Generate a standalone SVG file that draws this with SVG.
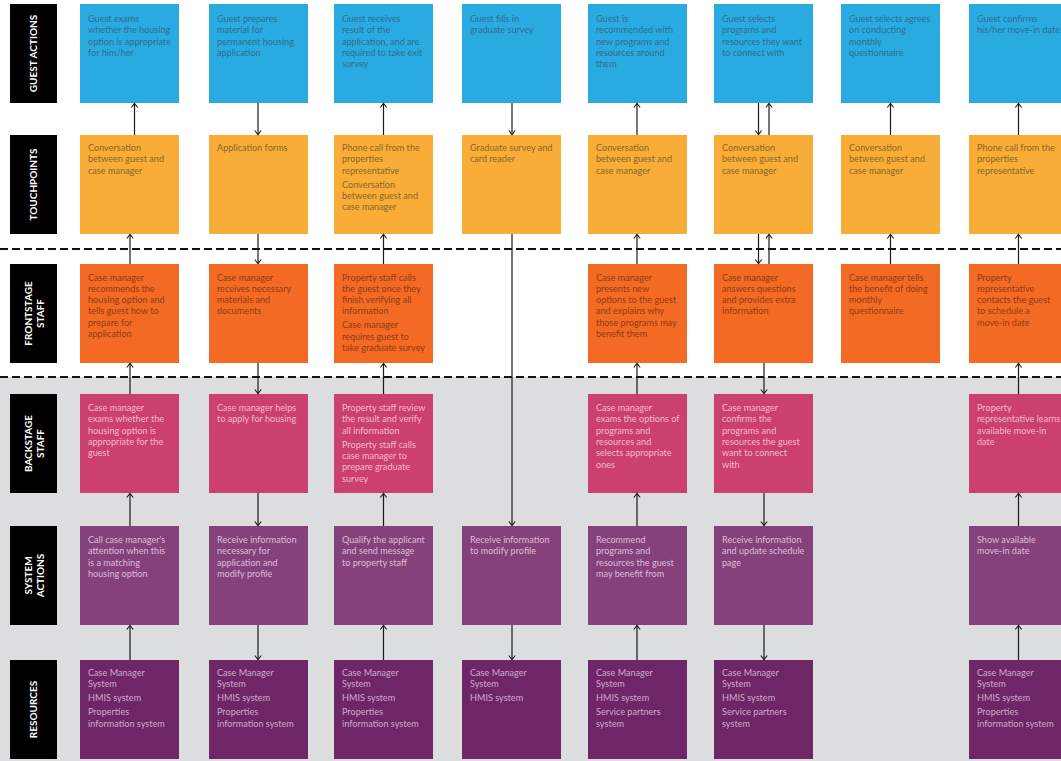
<svg xmlns="http://www.w3.org/2000/svg" width="1061" height="761" viewBox="0 0 1061 761">
<defs>
<style>
text{font-family:Lato,"Noto Sans","Liberation Sans",sans-serif;font-size:9.1px}
.lab rect{fill:#000}
.lab text{fill:#fff;font-weight:bold;font-size:10px;text-anchor:middle}
.ga rect{fill:#29abe2}.ga text{fill:#2f6d90}
.tp rect{fill:#f7ad38}.tp text{fill:#8f6526}
.fs rect{fill:#f26a24}.fs text{fill:#953a12}
.bs rect{fill:#cb406f}.bs text{fill:#f3b8cc}
.sa rect{fill:#84417b}.sa text{fill:#dcbcd8}
.rs rect{fill:#6e2667}.rs text{fill:#cfa9ca}
.conn line{stroke:#1a1a1a;stroke-width:1.2;fill:none}
.dash{stroke:#111;stroke-width:2;stroke-dasharray:8 4}
</style>
<marker id="ah" markerUnits="userSpaceOnUse" markerWidth="10" markerHeight="10" refX="0" refY="0" viewBox="-6 -5 8 10" orient="auto">
<path d="M-4,-3.2 L0,0 L-4,3.2" fill="none" stroke="#1a1a1a" stroke-width="1.1"/>
</marker>
</defs>
<rect x="0" y="0" width="1061" height="761" fill="#fff"/>
<rect x="0" y="377" width="1061" height="384" fill="#dcdddf"/>
<line class="dash" x1="0" y1="249" x2="1061" y2="249"/>
<line class="dash" x1="0" y1="377" x2="1061" y2="377"/>

<g id="label-guest-actions" class="lab"><rect x="10" y="4" width="47" height="99"/><text transform="translate(36.7,53.5) rotate(-90)">GUEST ACTIONS</text></g>
<g id="label-touchpoints" class="lab"><rect x="10" y="135" width="47" height="99"/><text transform="translate(36.7,184.5) rotate(-90)">TOUCHPOINTS</text></g>
<g id="label-frontstage" class="lab"><rect x="10" y="264" width="47" height="99"/><text transform="translate(32.3,313.5) rotate(-90)">FRONTSTAGE</text><text transform="translate(44.3,313.5) rotate(-90)">STAFF</text></g>
<g id="label-backstage" class="lab"><rect x="10" y="394" width="47" height="99"/><text transform="translate(32.3,443.5) rotate(-90)">BACKSTAGE</text><text transform="translate(44.3,443.5) rotate(-90)">STAFF</text></g>
<g id="label-system" class="lab"><rect x="10" y="526" width="47" height="99"/><text transform="translate(32.3,575.5) rotate(-90)">SYSTEM</text><text transform="translate(44.3,575.5) rotate(-90)">ACTIONS</text></g>
<g id="label-resources" class="lab"><rect x="10" y="660" width="47" height="99"/><text transform="translate(36.7,709.5) rotate(-90)">RESOURCES</text></g>

<!-- Column 1 -->
<g id="c1-ga" class="ga"><rect x="80" y="4" width="99" height="99"/><text x="88" y="22"><tspan x="88">Guest exams</tspan><tspan x="88" dy="11.3">whether the housing</tspan><tspan x="88" dy="11.3">option is appropriate</tspan><tspan x="88" dy="11.3">for him/her</tspan></text></g>
<g id="c1-tp" class="tp"><rect x="80" y="135" width="99" height="99"/><text x="88" y="151"><tspan x="88">Conversation</tspan><tspan x="88" dy="11.3">between guest and</tspan><tspan x="88" dy="11.3">case manager</tspan></text></g>
<g id="c1-fs" class="fs"><rect x="80" y="264" width="99" height="99"/><text x="88" y="280.5"><tspan x="88">Case manager</tspan><tspan x="88" dy="11.3">recommends the</tspan><tspan x="88" dy="11.3">housing option and</tspan><tspan x="88" dy="11.3">tells guest how to</tspan><tspan x="88" dy="11.3">prepare for</tspan><tspan x="88" dy="11.3">application</tspan></text></g>
<g id="c1-bs" class="bs"><rect x="80" y="394" width="99" height="99"/><text x="88" y="411"><tspan x="88">Case manager</tspan><tspan x="88" dy="11.3">exams whether the</tspan><tspan x="88" dy="11.3">housing option is</tspan><tspan x="88" dy="11.3">appropriate for the</tspan><tspan x="88" dy="11.3">guest</tspan></text></g>
<g id="c1-sa" class="sa"><rect x="80" y="526" width="99" height="99"/><text x="88" y="543"><tspan x="88">Call case manager's</tspan><tspan x="88" dy="11.3">attention when this</tspan><tspan x="88" dy="11.3">is a matching</tspan><tspan x="88" dy="11.3">housing option</tspan></text></g>
<g id="c1-rs" class="rs"><rect x="80" y="660" width="99" height="99"/><text x="88" y="676"><tspan x="88">Case Manager</tspan><tspan x="88" dy="11.3">System</tspan><tspan x="88" dy="14">HMIS system</tspan><tspan x="88" dy="14">Properties</tspan><tspan x="88" dy="11.3">information system</tspan></text></g>

<!-- Column 2 -->
<g id="c2-ga" class="ga"><rect x="209" y="4" width="99" height="99"/><text x="217" y="22"><tspan x="217">Guest prepares</tspan><tspan x="217" dy="11.3">material for</tspan><tspan x="217" dy="11.3">permanent housing</tspan><tspan x="217" dy="11.3">application</tspan></text></g>
<g id="c2-tp" class="tp"><rect x="209" y="135" width="99" height="99"/><text x="217" y="151">Application forms</text></g>
<g id="c2-fs" class="fs"><rect x="209" y="264" width="99" height="99"/><text x="217" y="280.5"><tspan x="217">Case manager</tspan><tspan x="217" dy="11.3">receives necessary</tspan><tspan x="217" dy="11.3">materials and</tspan><tspan x="217" dy="11.3">documents</tspan></text></g>
<g id="c2-bs" class="bs"><rect x="209" y="394" width="99" height="99"/><text x="217" y="411"><tspan x="217">Case manager helps</tspan><tspan x="217" dy="11.3">to apply for housing</tspan></text></g>
<g id="c2-sa" class="sa"><rect x="209" y="526" width="99" height="99"/><text x="217" y="543"><tspan x="217">Receive information</tspan><tspan x="217" dy="11.3">necessary for</tspan><tspan x="217" dy="11.3">application and</tspan><tspan x="217" dy="11.3">modify profile</tspan></text></g>
<g id="c2-rs" class="rs"><rect x="209" y="660" width="99" height="99"/><text x="217" y="676"><tspan x="217">Case Manager</tspan><tspan x="217" dy="11.3">System</tspan><tspan x="217" dy="14">HMIS system</tspan><tspan x="217" dy="14">Properties</tspan><tspan x="217" dy="11.3">information system</tspan></text></g>

<!-- Column 3 -->
<g id="c3-ga" class="ga"><rect x="334" y="4" width="99" height="99"/><text x="342" y="22"><tspan x="342">Guest receives</tspan><tspan x="342" dy="11.3">result of the</tspan><tspan x="342" dy="11.3">application, and are</tspan><tspan x="342" dy="11.3">required to take exit</tspan><tspan x="342" dy="11.3">survey</tspan></text></g>
<g id="c3-tp" class="tp"><rect x="334" y="135" width="99" height="99"/><text x="342" y="151"><tspan x="342">Phone call from the</tspan><tspan x="342" dy="11.3">properties</tspan><tspan x="342" dy="11.3">representative</tspan><tspan x="342" dy="14">Conversation</tspan><tspan x="342" dy="11.3">between guest and</tspan><tspan x="342" dy="11.3">case manager</tspan></text></g>
<g id="c3-fs" class="fs"><rect x="334" y="264" width="99" height="99"/><text x="342" y="280.5"><tspan x="342">Property staff calls</tspan><tspan x="342" dy="11.3">the guest once they</tspan><tspan x="342" dy="11.3">finish verifying all</tspan><tspan x="342" dy="11.3">information</tspan><tspan x="342" dy="14">Case manager</tspan><tspan x="342" dy="11.3">requires guest to</tspan><tspan x="342" dy="11.3">take graduate survey</tspan></text></g>
<g id="c3-bs" class="bs"><rect x="334" y="394" width="99" height="99"/><text x="342" y="411"><tspan x="342">Property staff review</tspan><tspan x="342" dy="11.3">the result and verify</tspan><tspan x="342" dy="11.3">all information</tspan><tspan x="342" dy="14">Property staff calls</tspan><tspan x="342" dy="11.3">case manager to</tspan><tspan x="342" dy="11.3">prepare graduate</tspan><tspan x="342" dy="11.3">survey</tspan></text></g>
<g id="c3-sa" class="sa"><rect x="334" y="526" width="99" height="99"/><text x="342" y="543"><tspan x="342">Qualify the applicant</tspan><tspan x="342" dy="11.3">and send message</tspan><tspan x="342" dy="11.3">to property staff</tspan></text></g>
<g id="c3-rs" class="rs"><rect x="334" y="660" width="99" height="99"/><text x="342" y="676"><tspan x="342">Case Manager</tspan><tspan x="342" dy="11.3">System</tspan><tspan x="342" dy="14">HMIS system</tspan><tspan x="342" dy="14">Properties</tspan><tspan x="342" dy="11.3">information system</tspan></text></g>

<!-- Column 4 -->
<g id="c4-ga" class="ga"><rect x="462" y="4" width="99" height="99"/><text x="470" y="22"><tspan x="470">Guest fills in</tspan><tspan x="470" dy="11.3">graduate survey</tspan></text></g>
<g id="c4-tp" class="tp"><rect x="462" y="135" width="99" height="99"/><text x="470" y="151"><tspan x="470">Graduate survey and</tspan><tspan x="470" dy="11.3">card reader</tspan></text></g>
<g id="c4-sa" class="sa"><rect x="462" y="526" width="99" height="99"/><text x="470" y="543"><tspan x="470">Receive information</tspan><tspan x="470" dy="11.3">to modify profile</tspan></text></g>
<g id="c4-rs" class="rs"><rect x="462" y="660" width="99" height="99"/><text x="470" y="676"><tspan x="470">Case Manager</tspan><tspan x="470" dy="11.3">System</tspan><tspan x="470" dy="14">HMIS system</tspan></text></g>

<!-- Column 5 -->
<g id="c5-ga" class="ga"><rect x="588" y="4" width="99" height="99"/><text x="596" y="22"><tspan x="596">Guest is</tspan><tspan x="596" dy="11.3">recommended with</tspan><tspan x="596" dy="11.3">new programs and</tspan><tspan x="596" dy="11.3">resources around</tspan><tspan x="596" dy="11.3">them</tspan></text></g>
<g id="c5-tp" class="tp"><rect x="588" y="135" width="99" height="99"/><text x="596" y="151"><tspan x="596">Conversation</tspan><tspan x="596" dy="11.3">between guest and</tspan><tspan x="596" dy="11.3">case manager</tspan></text></g>
<g id="c5-fs" class="fs"><rect x="588" y="264" width="99" height="99"/><text x="596" y="280.5"><tspan x="596">Case manager</tspan><tspan x="596" dy="11.3">presents new</tspan><tspan x="596" dy="11.3">options to the guest</tspan><tspan x="596" dy="11.3">and explains why</tspan><tspan x="596" dy="11.3">those programs may</tspan><tspan x="596" dy="11.3">benefit them</tspan></text></g>
<g id="c5-bs" class="bs"><rect x="588" y="394" width="99" height="99"/><text x="596" y="411"><tspan x="596">Case manager</tspan><tspan x="596" dy="11.3">exams the options of</tspan><tspan x="596" dy="11.3">programs and</tspan><tspan x="596" dy="11.3">resources and</tspan><tspan x="596" dy="11.3">selects appropriate</tspan><tspan x="596" dy="11.3">ones</tspan></text></g>
<g id="c5-sa" class="sa"><rect x="588" y="526" width="99" height="99"/><text x="596" y="543"><tspan x="596">Recommend</tspan><tspan x="596" dy="11.3">programs and</tspan><tspan x="596" dy="11.3">resources the guest</tspan><tspan x="596" dy="11.3">may benefit from</tspan></text></g>
<g id="c5-rs" class="rs"><rect x="588" y="660" width="99" height="99"/><text x="596" y="676"><tspan x="596">Case Manager</tspan><tspan x="596" dy="11.3">System</tspan><tspan x="596" dy="14">HMIS system</tspan><tspan x="596" dy="14">Service partners</tspan><tspan x="596" dy="11.3">system</tspan></text></g>

<!-- Column 6 -->
<g id="c6-ga" class="ga"><rect x="714" y="4" width="99" height="99"/><text x="722" y="22"><tspan x="722">Guest selects</tspan><tspan x="722" dy="11.3">programs and</tspan><tspan x="722" dy="11.3">resources they want</tspan><tspan x="722" dy="11.3">to connect with</tspan></text></g>
<g id="c6-tp" class="tp"><rect x="714" y="135" width="99" height="99"/><text x="722" y="151"><tspan x="722">Conversation</tspan><tspan x="722" dy="11.3">between guest and</tspan><tspan x="722" dy="11.3">case manager</tspan></text></g>
<g id="c6-fs" class="fs"><rect x="714" y="264" width="99" height="99"/><text x="722" y="280.5"><tspan x="722">Case manager</tspan><tspan x="722" dy="11.3">answers questions</tspan><tspan x="722" dy="11.3">and provides extra</tspan><tspan x="722" dy="11.3">information</tspan></text></g>
<g id="c6-bs" class="bs"><rect x="714" y="394" width="99" height="99"/><text x="722" y="411"><tspan x="722">Case manager</tspan><tspan x="722" dy="11.3">confirms the</tspan><tspan x="722" dy="11.3">programs and</tspan><tspan x="722" dy="11.3">resources the guest</tspan><tspan x="722" dy="11.3">want to connect</tspan><tspan x="722" dy="11.3">with</tspan></text></g>
<g id="c6-sa" class="sa"><rect x="714" y="526" width="99" height="99"/><text x="722" y="543"><tspan x="722">Receive information</tspan><tspan x="722" dy="11.3">and update schedule</tspan><tspan x="722" dy="11.3">page</tspan></text></g>
<g id="c6-rs" class="rs"><rect x="714" y="660" width="99" height="99"/><text x="722" y="676"><tspan x="722">Case Manager</tspan><tspan x="722" dy="11.3">System</tspan><tspan x="722" dy="14">HMIS system</tspan><tspan x="722" dy="14">Service partners</tspan><tspan x="722" dy="11.3">system</tspan></text></g>

<!-- Column 7 -->
<g id="c7-ga" class="ga"><rect x="841" y="4" width="99" height="99"/><text x="849" y="22"><tspan x="849">Guest selects agrees</tspan><tspan x="849" dy="11.3">on conducting</tspan><tspan x="849" dy="11.3">monthly</tspan><tspan x="849" dy="11.3">questionnaire</tspan></text></g>
<g id="c7-tp" class="tp"><rect x="841" y="135" width="99" height="99"/><text x="849" y="151"><tspan x="849">Conversation</tspan><tspan x="849" dy="11.3">between guest and</tspan><tspan x="849" dy="11.3">case manager</tspan></text></g>
<g id="c7-fs" class="fs"><rect x="841" y="264" width="99" height="99"/><text x="849" y="280.5"><tspan x="849">Case manager tells</tspan><tspan x="849" dy="11.3">the benefit of doing</tspan><tspan x="849" dy="11.3">monthly</tspan><tspan x="849" dy="11.3">questionnaire</tspan></text></g>

<!-- Column 8 -->
<g id="c8-ga" class="ga"><rect x="969" y="4" width="99" height="99"/><text x="977" y="22"><tspan x="977">Guest confirms</tspan><tspan x="977" dy="11.3">his/her move-in date</tspan></text></g>
<g id="c8-tp" class="tp"><rect x="969" y="135" width="99" height="99"/><text x="977" y="151"><tspan x="977">Phone call from the</tspan><tspan x="977" dy="11.3">properties</tspan><tspan x="977" dy="11.3">representative</tspan></text></g>
<g id="c8-fs" class="fs"><rect x="969" y="264" width="99" height="99"/><text x="977" y="280.5"><tspan x="977">Property</tspan><tspan x="977" dy="11.3">representative</tspan><tspan x="977" dy="11.3">contacts the guest</tspan><tspan x="977" dy="11.3">to schedule a</tspan><tspan x="977" dy="11.3">move-in date</tspan></text></g>
<g id="c8-bs" class="bs"><rect x="969" y="394" width="99" height="99"/><text x="977" y="411"><tspan x="977">Property</tspan><tspan x="977" dy="11.3">representative learns</tspan><tspan x="977" dy="11.3">available move-in</tspan><tspan x="977" dy="11.3">date</tspan></text></g>
<g id="c8-sa" class="sa"><rect x="969" y="526" width="99" height="99"/><text x="977" y="543"><tspan x="977">Show available</tspan><tspan x="977" dy="11.3">move-in date</tspan></text></g>
<g id="c8-rs" class="rs"><rect x="969" y="660" width="99" height="99"/><text x="977" y="676"><tspan x="977">Case Manager</tspan><tspan x="977" dy="11.3">System</tspan><tspan x="977" dy="14">HMIS system</tspan><tspan x="977" dy="14">Properties</tspan><tspan x="977" dy="11.3">information system</tspan></text></g>

<g id="connectors" class="conn">
<line x1="134.5" y1="135" x2="134.5" y2="103.5" marker-end="url(#ah)"/>
<line x1="130" y1="264" x2="130" y2="234.5" marker-end="url(#ah)"/>
<line x1="130" y1="394" x2="130" y2="363.5" marker-end="url(#ah)"/>
<line x1="130" y1="526" x2="130" y2="493.5" marker-end="url(#ah)"/>
<line x1="130" y1="660" x2="130" y2="625.5" marker-end="url(#ah)"/>

<line x1="258" y1="103" x2="258" y2="134.5" marker-end="url(#ah)"/>
<line x1="258" y1="234" x2="258" y2="263.5" marker-end="url(#ah)"/>
<line x1="258" y1="363" x2="258" y2="393.5" marker-end="url(#ah)"/>
<line x1="258" y1="493" x2="258" y2="525.5" marker-end="url(#ah)"/>
<line x1="258" y1="625" x2="258" y2="659.5" marker-end="url(#ah)"/>

<line x1="383.5" y1="135" x2="383.5" y2="103.5" marker-end="url(#ah)"/>
<line x1="383.5" y1="264" x2="383.5" y2="234.5" marker-end="url(#ah)"/>
<line x1="383.5" y1="394" x2="383.5" y2="363.5" marker-end="url(#ah)"/>
<line x1="383.5" y1="526" x2="383.5" y2="493.5" marker-end="url(#ah)"/>
<line x1="383.5" y1="660" x2="383.5" y2="625.5" marker-end="url(#ah)"/>

<line x1="512" y1="103" x2="512" y2="134.5" marker-end="url(#ah)"/>
<line x1="512" y1="234" x2="512" y2="525.5" marker-end="url(#ah)"/>
<line x1="512" y1="625" x2="512" y2="659.5" marker-end="url(#ah)"/>

<line x1="637" y1="135" x2="637" y2="103.5" marker-end="url(#ah)"/>
<line x1="637" y1="264" x2="637" y2="234.5" marker-end="url(#ah)"/>
<line x1="637" y1="394" x2="637" y2="363.5" marker-end="url(#ah)"/>
<line x1="637" y1="526" x2="637" y2="493.5" marker-end="url(#ah)"/>
<line x1="637" y1="660" x2="637" y2="625.5" marker-end="url(#ah)"/>

<line x1="758.5" y1="103" x2="758.5" y2="134.5" marker-end="url(#ah)"/>
<line x1="769" y1="135" x2="769" y2="103.5" marker-end="url(#ah)"/>
<line x1="758.5" y1="234" x2="758.5" y2="263.5" marker-end="url(#ah)"/>
<line x1="769" y1="264" x2="769" y2="234.5" marker-end="url(#ah)"/>
<line x1="764" y1="363" x2="764" y2="393.5" marker-end="url(#ah)"/>
<line x1="764" y1="493" x2="764" y2="525.5" marker-end="url(#ah)"/>
<line x1="764" y1="625" x2="764" y2="659.5" marker-end="url(#ah)"/>

<line x1="890.5" y1="135" x2="890.5" y2="103.5" marker-end="url(#ah)"/>
<line x1="890.5" y1="264" x2="890.5" y2="234.5" marker-end="url(#ah)"/>

<line x1="1018.5" y1="135" x2="1018.5" y2="103.5" marker-end="url(#ah)"/>
<line x1="1018.5" y1="264" x2="1018.5" y2="234.5" marker-end="url(#ah)"/>
<line x1="1018.5" y1="394" x2="1018.5" y2="363.5" marker-end="url(#ah)"/>
<line x1="1018.5" y1="526" x2="1018.5" y2="493.5" marker-end="url(#ah)"/>
<line x1="1018.5" y1="660" x2="1018.5" y2="625.5" marker-end="url(#ah)"/>
</g>
</svg>
